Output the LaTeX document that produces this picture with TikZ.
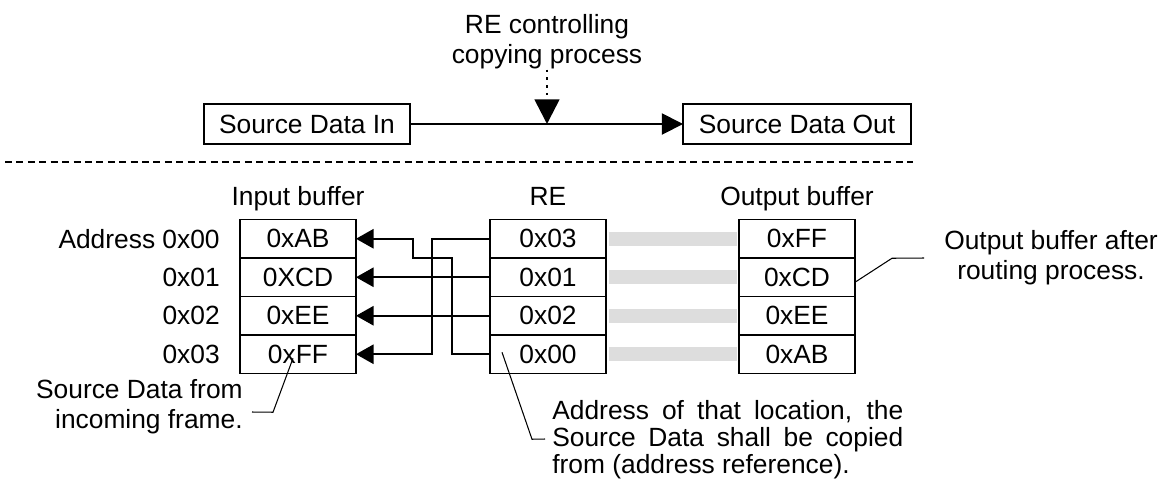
\documentclass[tikz,border=0pt]{standalone}
\usepackage{fontspec}
\setmainfont{Liberation Sans}
\usetikzlibrary{arrows.meta,positioning,calc}
\tikzset{
  lbl/.style={font=\fontsize{15}{17}\selectfont,inner sep=0pt},
  cell/.style={draw,line width=1.1pt,minimum width=2.32cm,minimum height=0.77cm,inner sep=0pt,outer sep=0pt,font=\fontsize{15}{17}\selectfont},
  block/.style={draw,line width=1.1pt,minimum height=0.8cm,inner sep=0pt,outer sep=0pt,font=\fontsize{15}{17}\selectfont},
  arr/.style={-{Triangle[length=10pt,width=11pt]},line width=1pt},
  arrbig/.style={-{Triangle[length=12pt,width=12pt]},line width=1pt},
  arrdot/.style={-{Triangle[length=14pt,width=14pt]},line width=1.5pt,dash pattern=on 1.5pt off 2.9pt},
  gap/.style={draw=gray!27,line width=8pt,shorten <=1.5pt,shorten >=1pt},
  pin/.style={line width=0.6pt},
  sep/.style={line width=0.9pt,dash pattern=on 4pt off 2.5pt}
}

\begin{document}
\begin{tikzpicture}[x=0.02cm,y=-0.02cm]
\path[use as bounding box] (0,0) rectangle (1163,485);

% top: copying process
\node[lbl,align=center] (ctrl) at (547,42) {RE controlling\\copying process};
\node[block,minimum width=4.12cm] (sdin) at (307,124) {Source Data In};
\node[block,minimum width=4.56cm] (sdout) at (797,124) {Source Data Out};
\coordinate (tap) at (ctrl |- sdin.east);
\draw[arrbig] (sdin) -- (sdout);
\draw[arrdot] (ctrl) -- (tap);

\draw[sep] (5,162) -- (913,162);

% buffers
\node[cell] (in0) at (298,238.75) {0xAB};
\node[cell,below=0pt of in0] (in1) {0XCD};
\node[cell,below=0pt of in1] (in2) {0xEE};
\node[cell,below=0pt of in2] (in3) {0xFF};
\node[cell] (re0) at (548,238.75) {0x03};
\node[cell,below=0pt of re0] (re1) {0x01};
\node[cell,below=0pt of re1] (re2) {0x02};
\node[cell,below=0pt of re2] (re3) {0x00};
\node[cell] (out0) at (797,238.75) {0xFF};
\node[cell,below=0pt of out0] (out1) {0xCD};
\node[cell,below=0pt of out1] (out2) {0xEE};
\node[cell,below=0pt of out2] (out3) {0xAB};

\node[lbl,anchor=base] (inhd) at ($(in0.north)+(0,-14.5)$) {Input buffer};
\node[lbl,anchor=base] (rehd) at ($(re0.north)+(0,-14.5)$) {RE};
\node[lbl,anchor=base] (outhd) at ($(out0.north)+(0,-14.5)$) {Output buffer};

\node[lbl,left=0.4cm of in0] (ad0) {Address 0x00};
\node[lbl,left=0.4cm of in1] (ad1) {0x01};
\node[lbl,left=0.4cm of in2] (ad2) {0x02};
\node[lbl,left=0.4cm of in3] (ad3) {0x03};

% address references
\draw[arr] (re3.west) -- ++(-38,0) -- ++(0,-96.25) -- ++(-39,0) |- (in0.east);
\draw[arr] (re1) -- (in1);
\draw[arr] (re2) -- (in2);
\draw[arr] (re0.west) -- ++(-58,0) |- (in3.east);

\draw[gap] (re0) -- (out0);
\draw[gap] (re1) -- (out1);
\draw[gap] (re2) -- (out2);
\draw[gap] (re3) -- (out3);

% notes
\node[lbl,align=right,anchor=east] (srcnote) at (243,407) {Source Data from\\incoming frame.};
\coordinate (srcpin) at (252,412);
\draw[pin] ($(in3)+(-5,4)$) -- ++(-20,54) -- (srcpin);

\node[lbl,font=\fontsize{15}{15.3}\selectfont,text width=7.02cm,align=justify,anchor=west] (adrnote) at (552,440) {Address of that location, the\linebreak Source Data shall be copied\linebreak from (address reference).};
\coordinate (adrpin) at (545,439);
\draw[pin] ($(re3)+(-46,-2)$) -- ++(30,87) -- (adrpin);

\node[lbl,align=center] (outnote) at (1051,258) {Output buffer after\\routing process.};
\coordinate (outpin) at (924,258);
\draw[pin] ($(out1.east)+(0,5)$) -- ++(37,-24) -- (outpin);
\end{tikzpicture}
\end{document}
